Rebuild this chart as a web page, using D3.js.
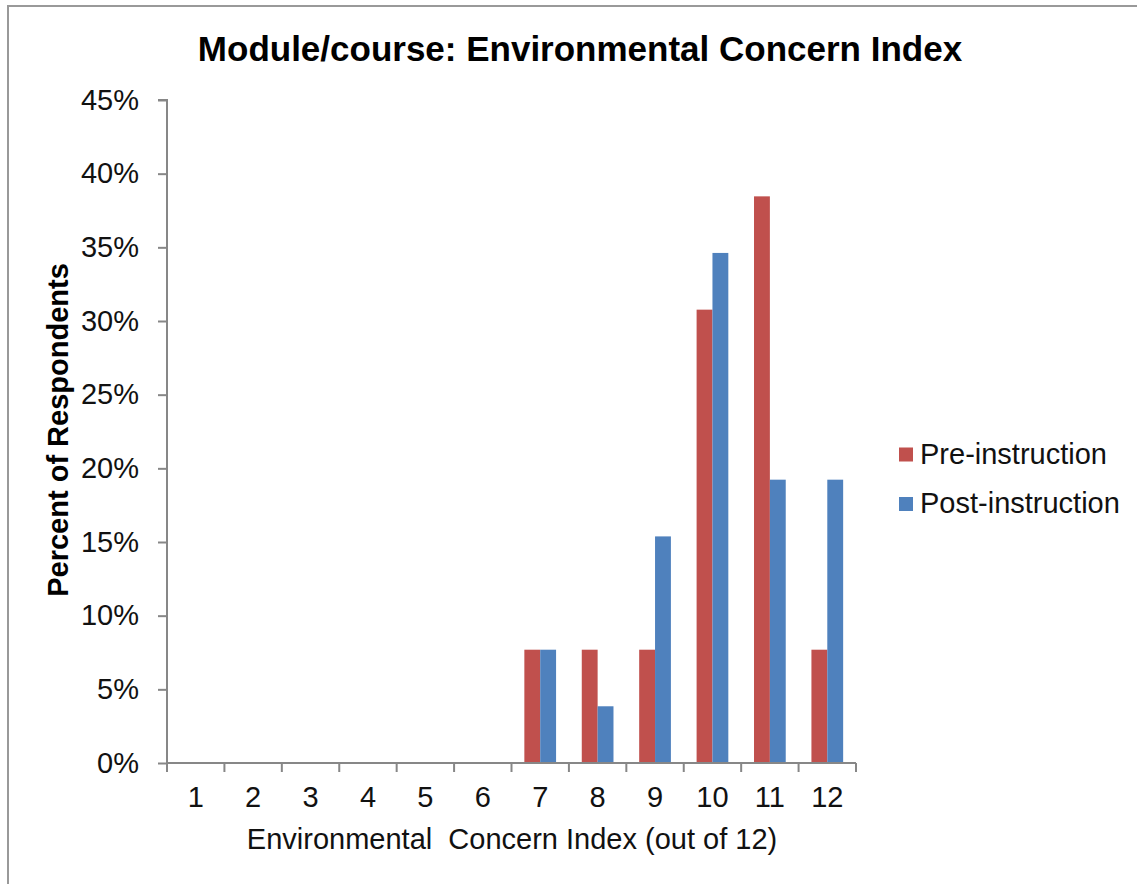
<!DOCTYPE html>
<html>
<head>
<meta charset="utf-8">
<script src="https://cdn.jsdelivr.net/npm/d3@7"></script>
<style>
  body { margin: 0; background: #fff; }
  text { font-family: "Liberation Sans", Arial, sans-serif; }
</style>
</head>
<body>
<svg id="chart" width="1137" height="884"></svg>
<script>
// data (26 respondents -> steps of ~3.85%)
const categories = ['1', '2', '3', '4', '5', '6', '7', '8', '9', '10', '11', '12'];
const seriesNames = ['Pre-instruction', 'Post-instruction'];
const preValues = [0, 0, 0, 0, 0, 0, 7.69, 7.69, 7.69, 30.77, 38.46, 7.69];
const postValues = [0, 0, 0, 0, 0, 0, 7.69, 3.85, 15.38, 34.62, 19.23, 19.23];
const yTicks = [0, 5, 10, 15, 20, 25, 30, 35, 40, 45];

const colors = ['#C0504D', '#4F81BD'];
const axisColor = '#878787';
const textColor = '#111';

const svg = d3.select('#chart');
const width = +svg.attr('width'), height = +svg.attr('height');

const margin = {left: 167, right: 281, top: 100, bottom: 121};

// outer frame (only top and left edges visible)
svg.append('path')
  .attr('d', `M8,${height} L8,6 L${width},6`)
  .attr('fill', 'none')
  .attr('stroke', '#999')
  .attr('stroke-width', 2);

const x = d3.scaleBand()
  .domain(categories)
  .range([margin.left, width - margin.right])
  .paddingInner(0)
  .paddingOuter(0);

const xInner = d3.scaleBand()
  .domain(seriesNames)
  .range([0, x.bandwidth()])
  .paddingInner(0)
  .paddingOuter(0.81);

const y = d3.scaleLinear()
  .domain([0, 45])
  .range([height - margin.bottom, margin.top]);

const data = categories.map((c, i) => ({cat: c, values: [preValues[i], postValues[i]]}));

// bars
const groups = svg.append('g').attr('class', 'bars')
  .selectAll('g')
  .data(data)
  .enter().append('g')
  .attr('transform', d => `translate(${x(d.cat)},0)`);

groups.selectAll('rect')
  .data(d => d.values.map((v, j) => ({name: seriesNames[j], value: v, j: j})))
  .enter().append('rect')
  .attr('x', d => xInner(d.name))
  .attr('width', xInner.bandwidth())
  .attr('y', d => y(d.value))
  .attr('height', d => y(0) - y(d.value))
  .attr('fill', d => colors[d.j]);

// y axis
const yAxis = svg.append('g')
  .attr('transform', `translate(${margin.left},0)`)
  .call(d3.axisLeft(y).tickValues(yTicks).tickSize(9).tickPadding(19).tickFormat(d => d + '%'));
yAxis.select('.domain').attr('stroke', axisColor).attr('stroke-width', 2).attr('d', `M-9,${y(45)}H0V${y(0)}`);
yAxis.selectAll('.tick line').attr('stroke', axisColor).attr('stroke-width', 2);
yAxis.selectAll('.tick text')
  .attr('fill', textColor)
  .style('font-size', '29px')
  .style('font-family', '"Liberation Sans", Arial, sans-serif');

// x axis
const xAxis = svg.append('g')
  .attr('transform', `translate(0,${y(0)})`)
  .call(d3.axisBottom(x).tickSize(0).tickPadding(23));
xAxis.select('.domain').attr('stroke', axisColor).attr('stroke-width', 2)
  .attr('d', `M${margin.left},0H${width - margin.right}`);
xAxis.selectAll('.tick text')
  .attr('fill', textColor)
  .style('font-size', '29px')
  .style('font-family', '"Liberation Sans", Arial, sans-serif');

// x tick marks sit between categories
const bounds = categories.map(c => x(c)).concat([x(categories[categories.length - 1]) + x.bandwidth()]);
svg.append('g')
  .selectAll('line')
  .data(bounds)
  .enter().append('line')
  .attr('x1', d => d)
  .attr('x2', d => d)
  .attr('y1', y(0))
  .attr('y2', y(0) + 9)
  .attr('stroke', axisColor)
  .attr('stroke-width', 2);

// title
svg.append('text')
  .attr('x', 580)
  .attr('y', 61)
  .attr('text-anchor', 'middle')
  .style('font-size', '35px')
  .style('font-weight', 'bold')
  .attr('fill', '#000')
  .text('Module/course: Environmental Concern Index');

// y axis title
svg.append('text')
  .attr('transform', `translate(68,430) rotate(-90)`)
  .attr('text-anchor', 'middle')
  .style('font-size', '29px')
  .style('font-weight', 'bold')
  .attr('fill', '#000')
  .text('Percent of Respondents');

// x axis title
svg.append('text')
  .attr('x', 512)
  .attr('y', 849)
  .attr('text-anchor', 'middle')
  .style('font-size', '29px')
  .style('white-space', 'pre')
  .attr('fill', textColor)
  .text('Environmental  Concern Index (out of 12)');

// legend
const legend = svg.append('g')
  .selectAll('g')
  .data(seriesNames)
  .enter().append('g')
  .attr('transform', (d, i) => `translate(899,${454.5 + i * 49.5})`);

legend.append('rect')
  .attr('x', 0)
  .attr('y', -7)
  .attr('width', 14)
  .attr('height', 14)
  .attr('fill', (d, i) => colors[i]);

legend.append('text')
  .attr('x', 21)
  .attr('y', 9)
  .style('font-size', '29px')
  .attr('fill', textColor)
  .text(d => d);
</script>
</body>
</html>
